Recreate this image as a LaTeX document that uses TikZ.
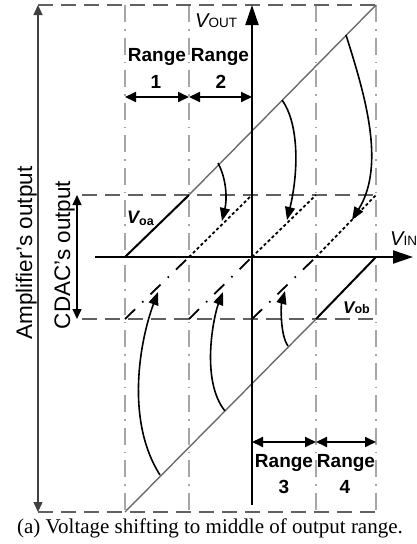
\documentclass[tikz,border=0pt]{standalone}
\usepackage{fontspec}
\setmainfont{Liberation Serif}
\setsansfont{Liberation Sans}
\usetikzlibrary{arrows.meta}
\begin{document}
\begin{tikzpicture}[x=1pt,y=-1pt,
  gridv/.style={draw=gray!70, line width=1.3pt, dash pattern=on 17pt off 7pt on 1.5pt off 7pt},
  gridh/.style={draw=black!62, line width=2pt, dash pattern=on 15pt off 8pt},
  axisline/.style={draw=black, line width=2pt, -{Triangle[length=20pt,width=13pt]}},
  spanarrow/.style={draw=black!75, line width=1.4pt, {Triangle[length=10pt,width=9pt]}-{Triangle[length=10pt,width=9pt]}},
  rangearrow/.style={draw=black, line width=1.8pt, {Triangle[length=11pt,width=10pt]}-{Triangle[length=11pt,width=10pt]}},
  shiftarrow/.style={draw=black, line width=1.6pt, -{Triangle[length=13pt,width=10pt]}},
  grayline/.style={draw=black!58, line width=1.4pt},
  solidline/.style={draw=black, line width=2pt},
  dotline/.style={draw=black, line width=1.8pt, dash pattern=on 3pt off 2.5pt},
  dashdotline/.style={draw=black, line width=1.8pt, dash pattern=on 14pt off 10pt on 1.5pt off 10pt},
  lbl/.style={font=\sffamily\bfseries\fontsize{19}{20}\selectfont, inner sep=0pt, anchor=base},
  sidelbl/.style={font=\sffamily\fontsize{22.5}{24}\selectfont, inner sep=0pt, anchor=base, rotate=90},
]
\useasboundingbox (0,0) rectangle (416,544);
% grid coordinates
\foreach \n/\x in {a/125,b/189,o/252,c/316,d/376}{
  \foreach \m/\y in {t/5,u/195,m/257,l/319,b/512}{
    \coordinate (\n-\m) at (\x,\y);
  }
}
% vertical dash-dot grid lines
\draw[gridv] (a-t) -- (a-b);
\draw[gridv] (b-t) -- (b-b);
\draw[gridv] (c-t) -- (c-b);
\draw[gridv] (d-t) -- (d-b);
% horizontal dashed lines
\coordinate (amp-top) at (38,5);
\coordinate (amp-bot) at (38,512);
\coordinate (mid-u) at (82,195);
\coordinate (mid-l) at (82,319);
\draw[gridh] (amp-top) -- (d-t);
\draw[gridh] (mid-u) -- (d-u);
\draw[gridh] (mid-l) -- (d-l);
\draw[gridh] (amp-bot) -- (d-b);
% span arrows
\draw[spanarrow] (amp-top) -- (amp-bot);
\coordinate (cdac-top) at (77,195);
\coordinate (cdac-bot) at (77,319);
\draw[spanarrow, draw=black] (cdac-top) -- (cdac-bot);
% transfer lines
\draw[grayline] (b-u) -- (d-t);
\draw[grayline] (a-b) -- (c-l);
\draw[solidline] (a-m) -- (b-u);
\draw[solidline] (c-l) -- (d-m);
\draw[dotline] (b-m) -- (o-u);
\draw[dotline] (o-m) -- (c-u);
\draw[dotline] (c-m) -- (d-u);
\draw[dashdotline] (a-l) -- (b-m);
\draw[dashdotline] (b-l) -- (o-m);
\draw[dashdotline] (o-l) -- (c-m);
% axes
\coordinate (v-bot) at (252,505);
\coordinate (v-top) at (252,5);
\coordinate (h-left) at (95,257);
\coordinate (h-right) at (413,257);
\draw[axisline] (v-bot) -- (v-top);
\draw[axisline] (h-left) -- (h-right);
% range arrows
\coordinate (r1l) at (125,97);
\coordinate (r1r) at (189,97);
\coordinate (r2r) at (252,97);
\coordinate (r3l) at (252,442);
\coordinate (r3r) at (316,442);
\coordinate (r4r) at (376,442);
\draw[rangearrow] (r1l) -- (r1r);
\draw[rangearrow] (r1r) -- (r2r);
\draw[rangearrow] (r3l) -- (r3r);
\draw[rangearrow] (r3r) -- (r4r);
% shift arrows (upper)
\coordinate (s2a) at (218,163);
\coordinate (e2a) at (222,221);
\coordinate (s3a) at (282,100);
\coordinate (e3a) at (287,220);
\coordinate (s4a) at (346,35);
\coordinate (e4a) at (352,220);
\draw[shiftarrow] (s2a) .. controls (227,180) and (227,200) .. (e2a);
\draw[shiftarrow] (s3a) .. controls (300,125) and (298,175) .. (e3a);
\draw[shiftarrow] (s4a) .. controls (365,95) and (386,165) .. (e4a);
% shift arrows (lower)
\coordinate (s1b) at (160,475);
\coordinate (e1b) at (158,292);
\coordinate (s2b) at (225,411);
\coordinate (e2b) at (223,292);
\coordinate (s3b) at (288,346);
\coordinate (e3b) at (285,291);
\draw[shiftarrow] (s1b) .. controls (125,420) and (140,340) .. (e1b);
\draw[shiftarrow] (s2b) .. controls (200,380) and (214,315) .. (e2b);
\draw[shiftarrow] (s3b) .. controls (280,335) and (281,305) .. (e3b);
% labels
\node[lbl] (t1a) at (157,61) {Range};
\node[lbl] (t1b) at (156,88) {1};
\node[lbl] (t2a) at (220,61) {Range};
\node[lbl] (t2b) at (221,88) {2};
\node[lbl] (t3a) at (284,467) {Range};
\node[lbl] (t3b) at (284,493) {3};
\node[lbl] (t4a) at (346,467) {Range};
\node[lbl] (t4b) at (345,493) {4};
\node[sidelbl] (amp) at (32,253) {Amplifier’s output};
\node[sidelbl] (cdac) at (70,255) {CDAC’s output};
\node[inner sep=0pt, anchor=base west, font=\sffamily] (vout) at (195,27)
  {{\fontsize{20}{20}\selectfont\itshape V}{\fontsize{13.5}{14}\selectfont OUT}};
\node[inner sep=0pt, anchor=base west, font=\sffamily] (vin) at (390,245)
  {{\fontsize{20}{20}\selectfont\itshape V}{\fontsize{13.5}{14}\selectfont IN}};
\node[inner sep=0pt, anchor=base west, font=\sffamily\bfseries] (voa) at (127,223)
  {{\fontsize{18}{18}\selectfont\itshape V}\raisebox{-2pt}{\fontsize{12.5}{13}\selectfont oa}};
\node[inner sep=0pt, anchor=base west, font=\sffamily\bfseries] (vob) at (343,313)
  {{\fontsize{17}{17}\selectfont\itshape V}{\fontsize{12.5}{13}\selectfont ob}};
\node[inner sep=0pt, anchor=base, font=\fontsize{21}{24}\selectfont] (cap) at (210,533)
  {(a) Voltage shifting to middle of output range.};
\end{tikzpicture}
\end{document}
